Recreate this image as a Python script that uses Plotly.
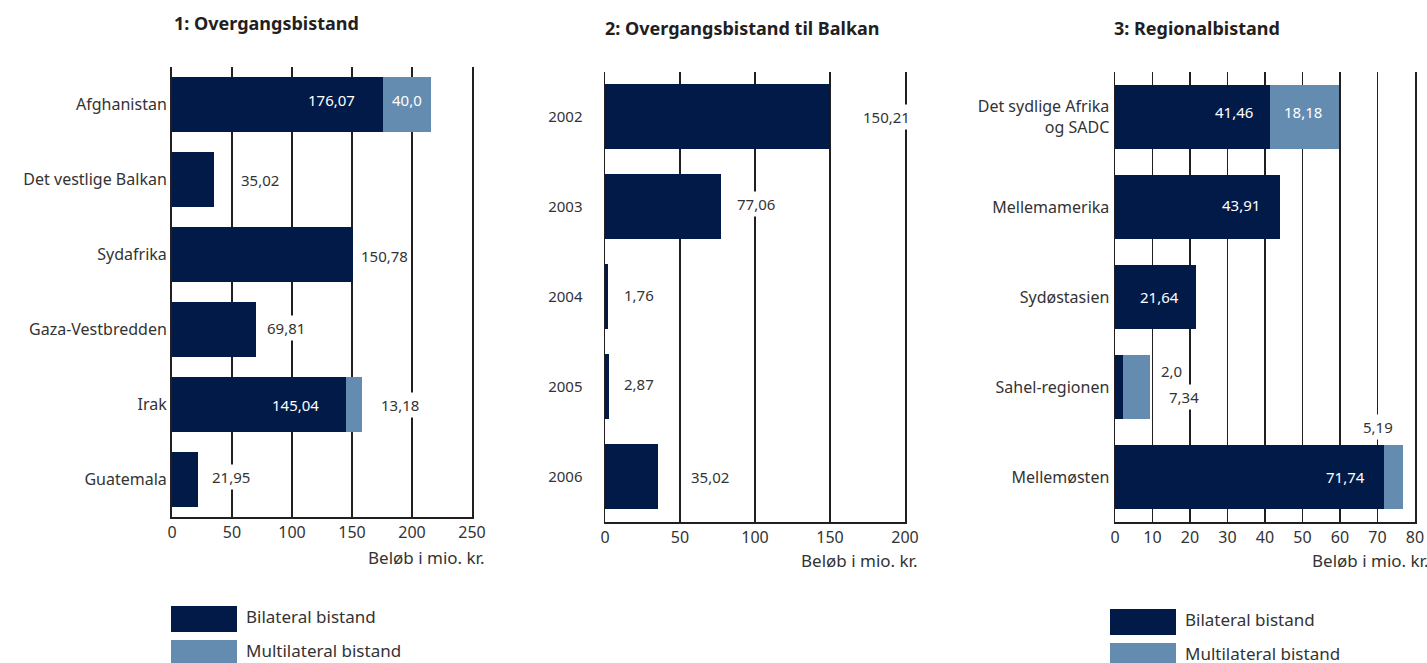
import plotly.graph_objects as go

# ---------------- data ----------------
p1_categories = ["Afghanistan", "Det vestlige Balkan", "Sydafrika", "Gaza-Vestbredden", "Irak", "Guatemala"]
p1_bilateral = [176.07, 35.02, 150.78, 69.81, 145.04, 21.95]
p1_multilateral = [40.0, 0, 0, 0, 13.18, 0]

p2_categories = ["2002", "2003", "2004", "2005", "2006"]
p2_bilateral = [150.21, 77.06, 1.76, 2.87, 35.02]

p3_categories = ["Det sydlige Afrika<br>og SADC", "Mellemamerika", "Sydøstasien", "Sahel-regionen", "Mellemøsten"]
p3_bilateral = [41.46, 43.91, 21.64, 2.0, 71.74]
p3_multilateral = [18.18, 0, 0, 7.34, 5.19]

titles = ["1: Overgangsbistand", "2: Overgangsbistand til Balkan", "3: Regionalbistand"]
axis_title = "Beløb i mio. kr."
legend_labels = ["Bilateral bistand", "Multilateral bistand"]

# ---------------- style ----------------
W, H = 1427, 663
NAVY = "#021a48"
LIGHT = "#648bb0"
INK = "#231f20"
TXT = "#333333"
FONT = "Noto Sans"


def fx(px):
    return px / W


def fy(py):
    return 1 - py / H


def fmt(v):
    s = f"{v:.2f}"
    if abs(v * 10 - round(v * 10)) < 1e-9:
        s = f"{v:.1f}"
    return s.replace(".", ",")


fig = go.Figure()

panels = [
    dict(cats=p1_categories, series=[p1_bilateral, p1_multilateral], rng=250, dtick=50,
         xd=(172, 472), yd=(67, 517), width=0.733, gw=2, standoff=0, cfont=16,
         title_xy=(172, 23)),
    dict(cats=p2_categories, series=[p2_bilateral], rng=200, dtick=50,
         xd=(605, 905), yd=(71.5, 521.5), width=0.722, gw=1.5, standoff=18, cfont=15,
         title_xy=(603, 28)),
    dict(cats=p3_categories, series=[p3_bilateral, p3_multilateral], rng=80, dtick=10,
         xd=(1115, 1415), yd=(72, 522), width=0.722, gw=1.5, standoff=1, cfont=16,
         title_xy=(1112, 28)),
]

colors = [NAVY, LIGHT]
layout_axes = {}
for i, p in enumerate(panels):
    n = i + 1
    xa = "x" if n == 1 else f"x{n}"
    ya = "y" if n == 1 else f"y{n}"
    for s, vals in enumerate(p["series"]):
        fig.add_trace(go.Bar(
            y=p["cats"], x=vals, orientation="h", xaxis=xa, yaxis=ya,
            marker=dict(color=colors[s], line=dict(width=0)), width=p["width"],
            showlegend=False, hoverinfo="skip",
        ))
    xkey = "xaxis" if n == 1 else f"xaxis{n}"
    ykey = "yaxis" if n == 1 else f"yaxis{n}"
    layout_axes[xkey] = dict(
        domain=[fx(p["xd"][0]), fx(p["xd"][1])], anchor=ya, range=[0, p["rng"]],
        dtick=p["dtick"], tick0=0, showgrid=True, gridcolor=INK, gridwidth=p["gw"],
        showline=True, linecolor=INK, linewidth=2, zeroline=False, ticks="",
        tickfont=dict(family=FONT, size=16, color=TXT), fixedrange=True,
        automargin=False,
    )
    layout_axes[ykey] = dict(
        domain=[fy(p["yd"][1]), fy(p["yd"][0])], anchor=xa, type="category",
        categoryorder="array", categoryarray=p["cats"],
        range=[len(p["cats"]) - 0.5, -0.5], showgrid=False, showline=True,
        mirror=True, linecolor=INK, linewidth=p["gw"], zeroline=False, ticks="",
        ticklabelstandoff=p["standoff"], automargin=False,
        tickfont=dict(family=FONT, size=p["cfont"], color=TXT), fixedrange=True,
    )

fig.update_layout(**layout_axes)

annotations = []
shapes = []

# titles
for p, t in zip(panels, titles):
    annotations.append(dict(
        text=f"<b>{t}</b>", xref="paper", yref="paper", x=fx(p["title_xy"][0]),
        y=fy(p["title_xy"][1]), xanchor="left", yanchor="middle", showarrow=False,
        font=dict(family=FONT, size=18, color="#231f20"),
    ))

# axis titles
for xa_px, ya_px, anchor in [(486, 557, "right"), (919, 560, "right"), (1310, 560, "left")]:
    annotations.append(dict(
        text=axis_title, xref="paper", yref="paper", x=fx(xa_px), y=fy(ya_px),
        xanchor=anchor, yanchor="middle", showarrow=False,
        font=dict(family=FONT, size=17, color=TXT),
    ))

# value label placement: (panel, series, index, mode, xshift, yshift)
# mode: "in" = inside right end (white), "mid" = centred in segment (white),
#       "out" = left-anchored after segment end, "endr" = right-anchored at segment end
placements = [
    (0, 0, 0, "in", -25, 4), (0, 1, 0, "mid", 0, 4),
    (0, 0, 1, "out", 24, 0), (0, 0, 2, "out", 5, -1), (0, 0, 3, "out", 8, 2),
    (0, 0, 4, "in", -24, 0), (0, 1, 4, "out", 16, 0), (0, 0, 5, "out", 11, 3),
    (1, 0, 0, "out", 30, 0), (1, 0, 1, "out", 13, 3), (1, 0, 2, "out", 13, 2),
    (1, 0, 3, "out", 12, 3), (1, 0, 4, "out", 30, 0),
    (2, 0, 0, "in", -14, 5), (2, 1, 0, "mid", -2, 5), (2, 0, 1, "in", -17, 2),
    (2, 0, 2, "in", -14, 0), (2, 0, 3, "out", 35, 16), (2, 1, 3, "out", 16, -10),
    (2, 0, 4, "in", -16, 0), (2, 1, 4, "endr", -7, 50),
]
for pi, si, idx, mode, dx, dy in placements:
    p = panels[pi]
    n = pi + 1
    xa = "x" if n == 1 else f"x{n}"
    ya = "y" if n == 1 else f"y{n}"
    start = sum(p["series"][k][idx] for k in range(si))
    val = p["series"][si][idx]
    end = start + val
    if mode == "in":
        x, anchor, col, bg = end, "right", "white", None
    elif mode == "mid":
        x, anchor, col, bg = start + val / 2, "center", "white", None
    elif mode == "endr":
        x, anchor, col, bg = end, "right", TXT, "white"
    else:
        x, anchor, col, bg = end, "left", TXT, "white"
    a = dict(
        text=fmt(val), xref=xa, yref=ya, x=x, y=idx, xanchor=anchor,
        yanchor="middle", xshift=dx, yshift=dy, showarrow=False,
        font=dict(family=FONT, size=15, color=col), borderpad=2,
    )
    if bg:
        a["bgcolor"] = bg
    annotations.append(a)

# legends (panel 1 and panel 3)
for lx, ly in [(171, 606), (1110, 609)]:
    for k, (lab, col) in enumerate(zip(legend_labels, colors)):
        y0 = ly + k * 34
        shapes.append(dict(type="rect", xref="paper", yref="paper",
                           x0=fx(lx), x1=fx(lx + 66), y0=fy(y0 + 26), y1=fy(y0),
                           fillcolor=col, line=dict(width=0)))
        annotations.append(dict(
            text=lab, xref="paper", yref="paper", x=fx(lx + 73), y=fy(y0 + 10.5),
            xanchor="left", yanchor="middle", showarrow=False,
            font=dict(family=FONT, size=17, color=TXT),
        ))

fig.update_layout(
    width=W, height=H, autosize=False,
    margin=dict(l=0, r=0, t=0, b=0, pad=0),
    paper_bgcolor="white", plot_bgcolor="white",
    barmode="stack", showlegend=False,
    annotations=annotations, shapes=shapes,
    font=dict(family=FONT, color=TXT),
)

fig.write_html(
    "out.html",
    config={"displayModeBar": False, "staticPlot": True},
    post_script="document.body.style.margin='0px';document.body.style.overflow='hidden';",
)
